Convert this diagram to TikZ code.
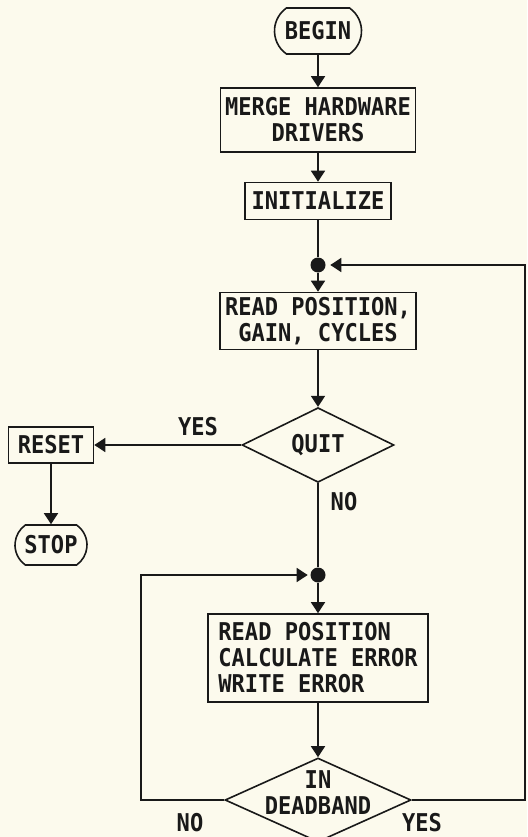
\documentclass[tikz,border=0pt]{standalone}
\usepackage{fontspec}
\setmonofont[FakeStretch=0.9]{DejaVu Sans Mono}
\usetikzlibrary{arrows.meta}
\usetikzlibrary{shapes.geometric, shapes.misc}

\definecolor{paper}{RGB}{252,250,237}
\definecolor{ink}{RGB}{25,25,25}

\tikzset{
  procbox/.style={draw=ink, text=ink, align=center, inner sep=4pt},
  termbox/.style={draw=ink, text=ink, rounded rectangle, rounded rectangle arc length=110, inner sep=4pt},
  decision/.style={draw=ink, text=ink, diamond, inner sep=0pt},
  junction/.style={circle, fill=ink, minimum size=15pt, inner sep=0pt},
  flowtext/.style={text=ink, inner sep=0pt}
}

\begin{document}
\begin{tikzpicture}[x=1pt,y=-1pt,font=\ttfamily\bfseries\fontsize{24.5}{26}\selectfont,
    line width=1.6pt, draw=ink,
    >={Triangle[width=14pt,length=11pt]}]
\fill[paper] (0,0) rectangle (527,837);
\useasboundingbox (0,0) rectangle (527,837);

% main column
\node[termbox, minimum width=95pt, minimum height=46pt] (Begin) at (318,31) {BEGIN};
\node[procbox, minimum width=195pt, minimum height=64pt] (Merge) at (318,120)
    {MERGE HARDWARE\\DRIVERS};
\node[procbox, minimum width=146pt, minimum height=37pt] (Init) at (318,201) {INITIALIZE};
\node[junction] (TopJoin) at (318,265) {};
\node[procbox, minimum width=196pt, minimum height=57pt] (ReadGain) at (318,321)
    {READ POSITION,\\GAIN, CYCLES};
\node[decision, minimum width=152pt, minimum height=66pt] (Quit) at (318,445) {QUIT};
\node[junction] (BottomJoin) at (318,575) {};
\node[procbox, align=left, minimum width=220pt, minimum height=88pt] (Calc) at (318,658)
    {READ POSITION\\CALCULATE ERROR\\WRITE ERROR};
\node[decision, minimum width=186pt, minimum height=84pt,
    label={[flowtext, align=center, yshift=7pt]center:IN\\DEADBAND}] (Deadband) at (318,800) {};

% exit branch
\node[procbox, minimum width=85pt, minimum height=36pt] (Reset) at (51,445) {RESET};
\node[termbox, minimum width=80pt, minimum height=40pt] (Stop) at (51,545) {STOP};

\coordinate (LeftTurn) at (141,800);
\coordinate (RightTurn) at (525,800);

\draw[->] (Begin) -- (Merge);
\draw[->] (Merge) -- (Init);
\draw (Init) -- (TopJoin);
\draw[->] (TopJoin) -- (ReadGain);
\draw[->] (ReadGain) -- (Quit);
\draw (Quit) -- (BottomJoin);
\draw[->] (BottomJoin) -- (Calc);
\draw[->] (Calc) -- (Deadband);

\draw[->] (Quit.west) -- (Reset.east);
\draw[->] (Reset) -- (Stop);

\draw[->, shorten >=4pt] (Deadband.east) -- (RightTurn) |- (TopJoin);
\draw[->, shorten >=2pt] (Deadband.west) -- (LeftTurn) |- (BottomJoin);

% branch labels
\node[flowtext] (QuitYes) at (198,427) {YES};
\node[flowtext] (QuitNo) at (344,502) {NO};
\node[flowtext] (BandNo) at (190,823) {NO};
\node[flowtext] (BandYes) at (422,823) {YES};
\end{tikzpicture}
\end{document}
